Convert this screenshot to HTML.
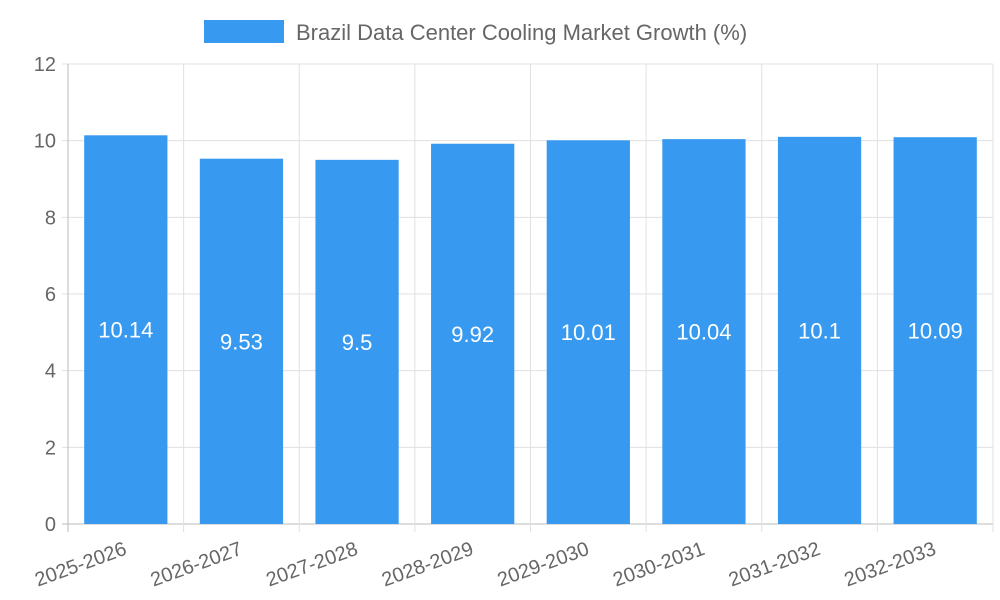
<!DOCTYPE html>
<html><head><meta charset="utf-8"><style>
body{margin:0;background:#fff;}
svg{display:block;font-family:"Liberation Sans",sans-serif;}
</style></head><body>
<svg id="c" width="1000" height="600">
<g>
<rect x="204" y="20" width="80" height="23" fill="#379af0"></rect>
<text x="296" y="40" font-size="22" fill="#666">Brazil Data Center Cooling Market Growth (%)</text>
</g>
</svg>
<script>
const categories=["2025-2026","2026-2027","2027-2028","2028-2029","2029-2030","2030-2031","2031-2032","2032-2033"];
const values=[10.14,9.53,9.5,9.92,10.01,10.04,10.1,10.09];
const yTicks=[0,2,4,6,8,10,12];
const svg=document.getElementById('c');
const NS="http://www.w3.org/2000/svg";
const L=68,R=993,T=64,B=524,yMax=12;
const y=v=>B-(v/yMax)*(B-T);
const bw=(R-L)/categories.length;
const x=i=>L+i*bw;
function mk(t,a,p){const e=document.createElementNS(NS,t);for(const k in a)e.setAttribute(k,a[k]);(p||svg).appendChild(e);return e;}
const grid=mk('g',{});


yTicks.forEach(v=>{
 const l=mk('line',{x1:L-6,x2:R,y1:y(v),y2:y(v),stroke:v===0?'#bbb':'#e0e0e0','stroke-width':1},grid);
 
 
 const t=mk('text',{x:L-12,y:y(v)+7,'text-anchor':'end','font-size':20,fill:'#666'},svg);
 t.textContent=v;
 
 
});
for(let i=0;i<=categories.length;i++){
 const l=mk('line',{x1:x(i),x2:x(i),y1:T,y2:B+8,stroke:i===0?'#bbb':'#e0e0e0','stroke-width':1},grid);
 
 
}
categories.forEach((c,i)=>{
 const cx=x(i)+bw/2, w=bw*0.72;
 const r=mk('rect',{x:cx-w/2,y:y(values[i]),width:w,height:B-y(values[i]),fill:'#379af0'});
 
 
 const t=mk('text',{x:cx,y:(y(values[i])+B)/2+8,'text-anchor':'middle','font-size':22,fill:'#fff'});
 t.textContent=values[i];
 
 
 const xl=mk('text',{x:0,y:0,'text-anchor':'end','font-size':20,fill:'#666',transform:`translate(${cx+2},${B+30}) rotate(-20)`});
 xl.textContent=c;
 
 
});
</script>
</body></html>
